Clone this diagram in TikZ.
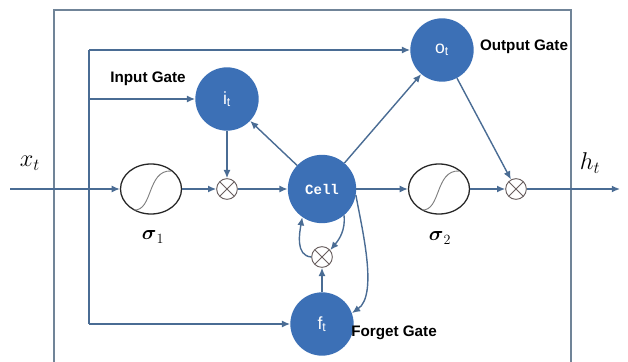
\documentclass[tikz,border=0pt]{standalone}
\usepackage{amsmath}
\usepackage{fontspec}
\setmainfont{Liberation Sans}
\newfontfamily\cellfont{Liberation Mono}
\usetikzlibrary{arrows.meta,shapes.geometric}
\definecolor{gateblue}{RGB}{60,112,182}
\definecolor{wireblue}{RGB}{74,108,148}
\definecolor{boxgray}{RGB}{112,132,152}
\definecolor{mulgray}{RGB}{105,95,95}
\begin{document}
\begin{tikzpicture}[
  x=0.03cm, y=0.03cm,
  >={Latex[length=7pt,width=6pt]},
  wire/.style={draw=wireblue,line width=1.2pt},
  gate/.style={circle,fill=gateblue,minimum size=1.9cm,inner sep=0pt,text=white,font=\fontsize{15}{17}\selectfont},
  cellnode/.style={gate,minimum size=2.05cm,font=\cellfont\bfseries\fontsize{12}{14}\selectfont},
  sigm/.style={ellipse,draw=black!85,line width=1.1pt,minimum width=1.83cm,minimum height=1.5cm},
  mult/.style={circle,draw=mulgray,line width=0.8pt,minimum size=0.62cm,inner sep=0pt,fill=white,
    path picture={\draw[mulgray,line width=0.8pt] (path picture bounding box.north west)--(path picture bounding box.south east)
      (path picture bounding box.north east)--(path picture bounding box.south west);}},
  gatelabel/.style={font=\bfseries\fontsize{13}{15}\selectfont}
]
  \useasboundingbox (0,0) rectangle (628,361);
  \draw[boxgray,line width=1.4pt] (54,-10) |- (571,351) -- (571,-10);

  \node[gate] (it) at (227,262) {i\textsubscript{t}};
  \node[gate] (ot) at (442,311) {o\textsubscript{t}};
  \node[gate] (ft) at (322,37)  {f\textsubscript{t}};
  \node[cellnode] (cell) at (322,172) {Cell};
  \node[sigm] (s1) at (151,172) {};
  \node[sigm] (s2) at (439,172) {};
  \node[mult] (m1) at (227,172) {};
  \node[mult] (m2) at (516,172) {};
  \node[mult] (m3) at (322,104) {};

  \foreach \s in {s1,s2}
    \draw[gray,line width=0.8pt] ([shift={(-17,-21)}]\s.center) .. controls ([shift={(2,-22)}]\s.center)
      and ([shift={(-4,19)}]\s.center) .. ([shift={(20,18)}]\s.center);

  \node[font=\fontsize{20}{24}\selectfont] (xt) at (30,198) {$x_t$};
  \node[font=\fontsize{20}{24}\selectfont] (ht) at (590,198) {$h_t$};
  \node[font=\fontsize{17}{20}\selectfont] (sig1) at (153,124) {$\boldsymbol{\sigma}_1$};
  \node[font=\fontsize{17}{20}\selectfont] (sig2) at (440,123) {$\boldsymbol{\sigma}_2$};
  \node[gatelabel] (ig) at (148,282) {Input Gate};
  \node[gatelabel] (og) at (524,314) {Output Gate};
  \node[gatelabel] (fg) at (394,28)  {Forget Gate};

  \coordinate (xin)  at (10,172);
  \coordinate (hout) at (620,172);
  \coordinate (tl) at (89,311);
  \coordinate (il) at (89,262);
  \coordinate (bl) at (89,37);

  \draw[wire,->] (xin) -- (s1);
  \draw[wire,->] (s1) -- (m1);
  \draw[wire,->] (m1) -- (cell);
  \draw[wire,->] (cell) -- (s2);
  \draw[wire,->] (s2) -- (m2);
  \draw[wire,->] (m2) -- (hout);
  \draw[wire] (tl) -- (bl);
  \draw[wire,->] (tl) -- (ot);
  \draw[wire,->] (il) -- (it);
  \draw[wire,->] (bl) -- (ft);
  \draw[wire,->] (it) -- (m1);
  \draw[wire,->] (cell) -- (it);
  \draw[wire,->] (cell) -- (ot);
  \draw[wire,->] (ot) -- (m2);
  \draw[wire,->] (ft) -- (m3);
  \draw[wire,->] (cell.-50) to[out=-85,in=50] (m3.40);
  \draw[wire,->] (m3.west) to[out=175,in=-100] (cell.-125);
  \draw[wire,->] (cell.-10) to[out=-80,in=35,looseness=0.7] (ft.20);
\end{tikzpicture}
\end{document}
